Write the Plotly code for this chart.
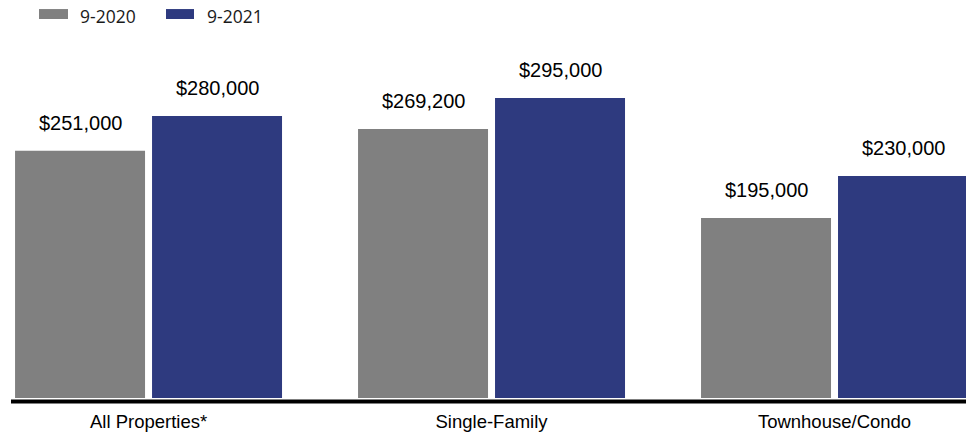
import plotly.graph_objects as go

categories = ["All Properties*", "Single-Family", "Townhouse/Condo"]
series_names = ["9-2020", "9-2021"]
values_2020 = [251000, 269200, 195000]
values_2021 = [280000, 295000, 230000]
colors = ["#808080", "#2E3A7F"]

W, H = 974, 434
OFF = 8  # page body margin offset
# desired on-screen plot area: x 11..970, y 40..398.5
ML = 11 - OFF
MR = W - (970 - OFF)
MT = 40 - OFF
MB = H - (398.5 - OFF)
PW = W - ML - MR
PH = H - MT - MB


def px_x(px):
    return (px - OFF - ML) / PW


def px_y(py):
    return (H - MB - (py - OFF)) / PH


fig = go.Figure()
series_vals = [values_2020, values_2021]
for name, vals, col in zip(series_names, series_vals, colors):
    fig.add_trace(go.Bar(
        x=categories, y=vals, name=name, marker=dict(color=col, line=dict(width=0)),
        showlegend=False, hoverinfo="skip",
    ))

# value labels
offsets = [-0.1997, 0.1997]
for off, vals in zip(offsets, series_vals):
    for i, v in enumerate(vals):
        fig.add_annotation(
            x=i + off, y=v, xref="x", yref="y", text=f"${v:,.0f}",
            showarrow=False, yanchor="bottom", xanchor="center", yshift=15,
            font=dict(family="Liberation Sans, Arial", size=20, color="#000000"),
        )

# legend (swatch + label)
legend_x = [(39, 68, 80), (166, 194, 207)]
for (x0, x1, tx), name, col in zip(legend_x, series_names, colors):
    fig.add_shape(type="rect", xref="paper", yref="paper",
                  x0=px_x(x0), x1=px_x(x1), y0=px_y(19), y1=px_y(9),
                  fillcolor=col, line=dict(width=0))
    fig.add_annotation(x=px_x(tx - 1), y=px_y(16), xref="paper", yref="paper",
                       text=name, showarrow=False, xanchor="left", yanchor="middle",
                       borderpad=0,
                       font=dict(family="Open Sans, Noto Sans", size=17.5, color="#1a1a1a"))

# thick baseline
fig.add_shape(type="line", xref="paper", yref="paper",
              x0=0, x1=px_x(971), y0=px_y(402), y1=px_y(402),
              line=dict(color="#000000", width=4))

fig.update_layout(
    width=W, height=H,
    margin=dict(l=ML, r=MR, t=MT, b=MB, pad=0),
    paper_bgcolor="white", plot_bgcolor="white",
    barmode="group", bargap=0.2012, bargroupgap=0.0511,
    xaxis=dict(range=[-0.401, 2.395], showgrid=False, showline=False, zeroline=False,
               ticks="", ticklabelstandoff=10,
               tickfont=dict(family="Liberation Sans, Arial", size=18.5, color="#000000"),
               fixedrange=True),
    yaxis=dict(range=[44750, 343500], visible=False, showgrid=False, zeroline=False,
               fixedrange=True),
)

fig.write_html("out.html", config={"displayModeBar": False})
